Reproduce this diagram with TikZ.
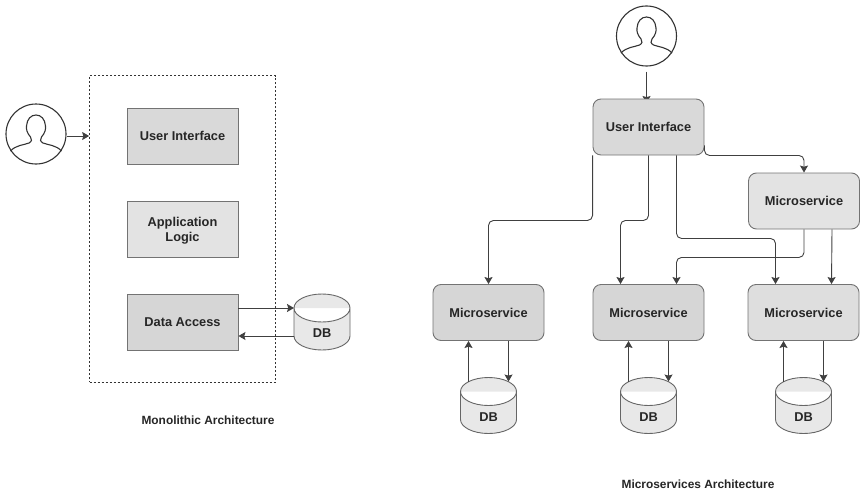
\documentclass[tikz,border=0pt]{standalone}
\usepackage{fontspec}
\setmainfont{Liberation Sans}
\usepackage{tikz}
\usetikzlibrary{arrows.meta}

\tikzset{
	lay/.style={draw=black!55,line width=0.9pt,minimum width=111pt,minimum height=56pt,align=center,text=black!85,font=\bfseries\fontsize{12.8}{15}\selectfont,inner sep=0pt},
	svc/.style={lay,rounded corners=8pt,fill=black!15},
	link/.style={draw=black!75,line width=0.9pt,rounded corners=5pt,-{Stealth[inset=1.2pt,length=7pt,width=8pt]}},
	store/.style={minimum width=56pt,minimum height=56pt,inner sep=0pt,outer sep=0pt},
	user/.style={circle,draw=black!80,line width=1.1pt,minimum size=60pt,inner sep=0pt},
	caption/.style={text=black!85,font=\bfseries\fontsize{11.9}{14}\selectfont,inner sep=0pt}
}
\newcommand{\usersketch}[1]{
	\draw [black!80,line width=1.1pt,shift={(#1.center)}] (-25.5,17) .. controls (-20,11) and (-12,11) .. (-7,9) .. controls (-4,7.5) and (-4,5) .. (-5.5,3) .. controls (-9,-1) and (-10,-5) .. (-9.5,-8) .. controls (-9,-15) and (-5,-19) .. (0,-19) .. controls (5,-19) and (9,-15) .. (9.5,-8) .. controls (10,-5) and (9,-1) .. (5.5,3) .. controls (4,5) and (4,7.5) .. (7,9) .. controls (12,11) and (20,11) .. (25.5,17);
}
\newcommand{\storesketch}[1]{
	\draw [draw=black!60,fill=black!9,line width=0.9pt,shift={(#1.center)}] (-28,-14) -- (-28,14) arc [x radius=28,y radius=14,start angle=180,end angle=0] -- (28,-14) (0,-14) ellipse [x radius=28,y radius=14] node [text=black!85,font=\bfseries\fontsize{12.8}{15}\selectfont,inner sep=0pt] (#1text) at (0,11.5) {DB};
}

\begin{document}
\begin{tikzpicture}[x=1pt,y=-1pt]
	\useasboundingbox (0,0) rectangle (864,495);
	% left side
	\node [draw=black!80,dash pattern=on 2pt off 2pt,line width=0.7pt,minimum width=186pt,minimum height=306.5pt,inner sep=0pt] (frame) at (182.5,228.75) {};
	\node [lay,fill=black!15] (uiMono) at (182.5,136) {User Interface};
	\node [lay,fill=black!11,below of=uiMono,node distance=93pt] (logicMono) {\rule{0pt}{13pt}Application\\Logic};
	\node [lay,fill=black!16,below of=logicMono,node distance=93pt] (dataMono) {Data Access};
	\node [store] (dbMono) at (322,322) {};
	\storesketch{dbMono}
	\node [user] (userMono) at (36,134) {};
	\usersketch{userMono}
	\node [caption] (capMono) at (208,420) {Monolithic Architecture};
	\draw [link] ([yshift=-2pt]userMono.east) -- ([yshift=-2pt]userMono.east -| frame.west);
	\draw [link] ([yshift=14pt]dataMono.east) -- ([yshift=14pt]dataMono.east -| dbMono.west);
	\draw [link] ([yshift=-14pt]dataMono.east -| dbMono.west) -- ([yshift=-14pt]dataMono.east);

	% right side
	\node [user] (userMicro) at (646.5,36) {};
	\usersketch{userMicro}
	\coordinate (entry) at (646.5,103);
	\draw [link] ([yshift=-5pt]userMicro.south) -- (entry);
	\node [svc] (uiMicro) at (648.5,127) {User Interface};
	\node [svc,fill=black!11] (msTop) at (804,201) {Microservice};
	\node [svc,fill=black!16] (msA) at (488.5,312.5) {Microservice};
	\node [svc,fill=black!16,right of=msA,node distance=160pt] (msB) {Microservice};
	\node [svc,fill=black!13,right of=msB,node distance=155pt] (msC) {Microservice};
	\node [store,below of=msA,node distance=93pt] (dbA) {};
	\node [store,below of=msB,node distance=93pt] (dbB) {};
	\node [store,below of=msC,node distance=93pt] (dbC) {};
	\storesketch{dbA}
	\storesketch{dbB}
	\storesketch{dbC}
	\node [caption] (capMicro) at (698,484) {Microservices Architecture};

	\draw [link] (uiMicro.south west) -- ++(0,65) -| (msA.north);
	\draw [link] (uiMicro.south) -- ++(0,65) -| ([xshift=-28pt]msB.north);
	\draw [link] ([xshift=28pt]uiMicro.south) -- ++(0,83) -| ([xshift=-28pt]msC.north);
	\draw [link] ([yshift=10pt]uiMicro.south east) -- ++(0,10) -| (msTop.north);
	\draw [link] (msTop.south) -- ++(0,28) -| ([xshift=28pt]msB.north);
	\draw [link] ([xshift=28pt]msTop.south) -- ([xshift=28pt]msC.north);
	\foreach \ms/\db in {msA/dbA,msB/dbB,msC/dbC}{
		\draw [link] ([xshift=-20pt,yshift=-4pt]\db.north) -- ([xshift=-20pt]\ms.south);
		\draw [link] ([xshift=20pt]\ms.south) -- ([xshift=20pt,yshift=-4pt]\db.north);
	}
\end{tikzpicture}
\end{document}
